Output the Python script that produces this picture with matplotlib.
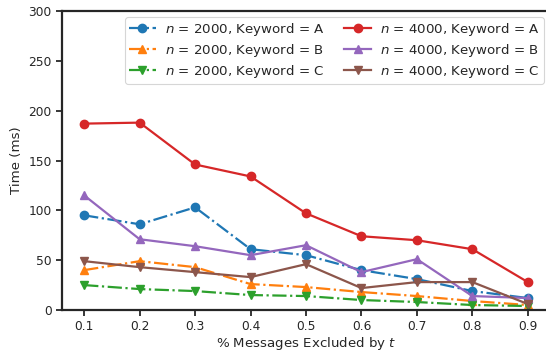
import matplotlib
matplotlib.use("Agg")
import matplotlib.pyplot as plt

x = [0.1, 0.2, 0.3, 0.4, 0.5, 0.6, 0.7, 0.8, 0.9]
n2000_A = [95, 86, 103, 61, 55, 40, 31, 19, 12]
n2000_B = [40, 49, 43, 26, 23, 18, 14, 9, 5]
n2000_C = [25, 21, 19, 15, 14, 10, 8, 5, 4]
n4000_A = [187, 188, 146, 134, 97, 74, 70, 61, 28]
n4000_B = [115, 71, 64, 55, 65, 38, 51, 14, 12]
n4000_C = [49, 43, 38, 33, 46, 22, 28, 28, 6]

series = [
    (n2000_A, r"$n$ = 2000, Keyword = A", "#1f77b4", "o", "-."),
    (n2000_B, r"$n$ = 2000, Keyword = B", "#ff7f0e", "^", "-."),
    (n2000_C, r"$n$ = 2000, Keyword = C", "#2ca02c", "v", "-."),
    (n4000_A, r"$n$ = 4000, Keyword = A", "#d62728", "o", "-"),
    (n4000_B, r"$n$ = 4000, Keyword = B", "#9467bd", "^", "-"),
    (n4000_C, r"$n$ = 4000, Keyword = C", "#8c564b", "v", "-"),
]

plt.rcParams['font.family'] = ['DejaVu Sans']
plt.rcParams['mathtext.fontset'] = 'dejavusans'
dark = "#262626"

fig = plt.figure(figsize=(5.46, 3.54), dpi=100)
ax = fig.add_axes([62/546, 44/354, 488/546, 299/354])
for vals, lab, c, m, ls in series:
    ax.plot(x, vals, linestyle=ls, marker=m, color=c, label=lab,
            linewidth=1.6, markersize=6)

ax.set_xlim(0.06, 0.94)
ax.set_ylim(0, 300)
ax.set_xticks(x)
ax.set_xticklabels([f"{v:.1f}" for v in x])
ax.set_yticks([0, 50, 100, 150, 200, 250, 300])
for s in ax.spines.values():
    s.set_linewidth(1.6)
    s.set_color(dark)
ax.tick_params(axis='both', colors=dark, labelcolor=dark, labelsize=8.8,
               width=1.3, length=4)
ax.set_xlabel(r"% Messages Excluded by $t$", fontsize=9.6, color=dark, labelpad=1.5)
ax.set_ylabel("Time (ms)", fontsize=9.6, color=dark)
leg = ax.legend(ncol=2, loc="upper right", bbox_to_anchor=(544/546, 1 - 17/354),
                bbox_transform=fig.transFigure, fontsize=9.6, frameon=True,
                handlelength=2.0, columnspacing=1.5, borderpad=0.3,
                handletextpad=0.7, labelspacing=0.3, borderaxespad=0)
leg.get_frame().set_edgecolor("#cccccc")
leg.get_frame().set_linewidth(0.8)
for t in leg.get_texts():
    t.set_color(dark)

fig.savefig("out.png", dpi=100)
